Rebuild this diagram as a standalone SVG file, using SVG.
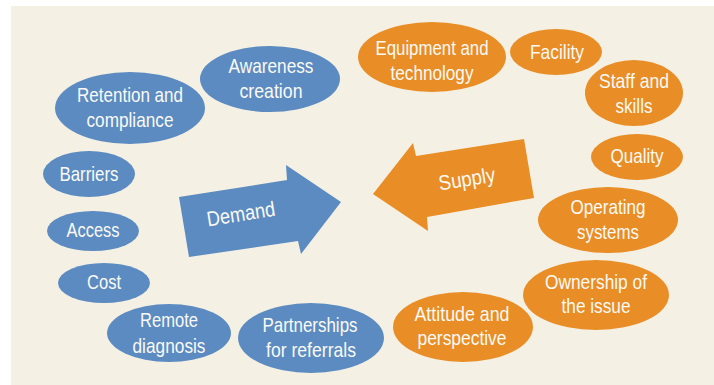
<svg xmlns="http://www.w3.org/2000/svg" width="714" height="385" viewBox="0 0 714 385">
  <style>
    .d { fill: #5C8BC1; }
    .s { fill: #E98D26; }
    text { font-family: "Liberation Sans", Arial, sans-serif; font-size: 21px; fill: #FAFAF5; text-anchor: middle; }
    .big { font-size: 21px; }
  </style>
  <rect x="0" y="0" width="714" height="385" fill="#FFFFFF"/>
  <rect x="11" y="6" width="703" height="379" fill="#F4F1E4"/>

  <g id="arrows">
    <g id="demand">
      <polygon class="d" points="179,197 287,180 286,165 341,202 301,254 298,241 189,257"/>
      <text class="big" transform="translate(242,221) rotate(-9)" x="0" y="0" textLength="69" lengthAdjust="spacingAndGlyphs">Demand</text>
    </g>
    <g id="supply">
      <polygon class="s" points="373,194 413,143 416,156 524,139 534,198 427,217 428,231"/>
      <text class="big" transform="translate(468,186) rotate(-9)" x="0" y="0" textLength="57" lengthAdjust="spacingAndGlyphs">Supply</text>
    </g>
  </g>

  <g id="retention">
    <ellipse class="d" cx="130" cy="108" rx="75" ry="36"/>
    <text x="130" y="102" textLength="106" lengthAdjust="spacingAndGlyphs">Retention and</text>
    <text x="130" y="127" textLength="87" lengthAdjust="spacingAndGlyphs">compliance</text>
  </g>
  <g id="awareness">
    <ellipse class="d" cx="270" cy="79" rx="70" ry="33"/>
    <text x="271" y="73" textLength="85" lengthAdjust="spacingAndGlyphs">Awareness</text>
    <text x="271" y="98" textLength="63" lengthAdjust="spacingAndGlyphs">creation</text>
  </g>
  <g id="barriers">
    <ellipse class="d" cx="89" cy="174" rx="46" ry="23"/>
    <text x="89" y="181" textLength="59" lengthAdjust="spacingAndGlyphs">Barriers</text>
  </g>
  <g id="access">
    <ellipse class="d" cx="93" cy="231" rx="46" ry="20"/>
    <text x="93" y="237" textLength="53" lengthAdjust="spacingAndGlyphs">Access</text>
  </g>
  <g id="cost">
    <ellipse class="d" cx="104" cy="283" rx="46" ry="20"/>
    <text x="104" y="289" textLength="34" lengthAdjust="spacingAndGlyphs">Cost</text>
  </g>
  <g id="remote">
    <ellipse class="d" cx="169" cy="333" rx="62" ry="29"/>
    <text x="169" y="327" textLength="58" lengthAdjust="spacingAndGlyphs">Remote</text>
    <text x="169" y="353" textLength="73" lengthAdjust="spacingAndGlyphs">diagnosis</text>
  </g>
  <g id="partnerships">
    <ellipse class="d" cx="311" cy="338" rx="73" ry="35"/>
    <text x="310" y="332" textLength="95" lengthAdjust="spacingAndGlyphs">Partnerships</text>
    <text x="311" y="357" textLength="90" lengthAdjust="spacingAndGlyphs">for referrals</text>
  </g>

  <g id="equipment">
    <ellipse class="s" cx="432" cy="57" rx="74" ry="35"/>
    <text x="432" y="55" textLength="113" lengthAdjust="spacingAndGlyphs">Equipment and</text>
    <text x="432" y="80" textLength="83" lengthAdjust="spacingAndGlyphs">technology</text>
  </g>
  <g id="facility">
    <ellipse class="s" cx="556" cy="52" rx="46" ry="23"/>
    <text x="557" y="59" textLength="54" lengthAdjust="spacingAndGlyphs">Facility</text>
  </g>
  <g id="staff">
    <ellipse class="s" cx="634" cy="93" rx="49" ry="33"/>
    <text x="634" y="88" textLength="70" lengthAdjust="spacingAndGlyphs">Staff and</text>
    <text x="634" y="113" textLength="37" lengthAdjust="spacingAndGlyphs">skills</text>
  </g>
  <g id="quality">
    <ellipse class="s" cx="637" cy="157" rx="46" ry="23"/>
    <text x="637" y="163" textLength="53" lengthAdjust="spacingAndGlyphs">Quality</text>
  </g>
  <g id="operating">
    <ellipse class="s" cx="608" cy="220" rx="70" ry="33"/>
    <text x="608" y="214" textLength="75" lengthAdjust="spacingAndGlyphs">Operating</text>
    <text x="608" y="239" textLength="62" lengthAdjust="spacingAndGlyphs">systems</text>
  </g>
  <g id="ownership">
    <ellipse class="s" cx="596" cy="295" rx="73" ry="35"/>
    <text x="596" y="289" textLength="102" lengthAdjust="spacingAndGlyphs">Ownership of</text>
    <text x="596" y="313" textLength="69" lengthAdjust="spacingAndGlyphs">the issue</text>
  </g>
  <g id="attitude">
    <ellipse class="s" cx="463" cy="327" rx="70" ry="35"/>
    <text x="462" y="321" textLength="95" lengthAdjust="spacingAndGlyphs">Attitude and</text>
    <text x="462" y="345" textLength="89" lengthAdjust="spacingAndGlyphs">perspective</text>
  </g>
</svg>
